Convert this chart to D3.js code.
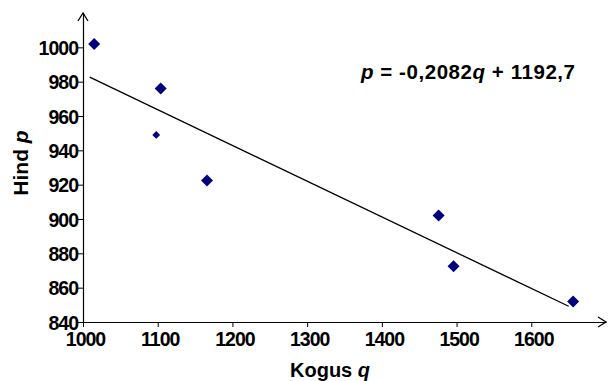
<!DOCTYPE html>
<html><head><meta charset="utf-8">
<script src="https://cdn.jsdelivr.net/npm/d3@7"></script>
<style>
body{margin:0;background:#fff;}
text{font-family:"Liberation Sans",Arial,sans-serif;font-weight:bold;}
</style></head>
<body><svg id="c" width="608" height="381"></svg>
<script>
const qValues = [1015, 1104, 1098, 1166, 1476, 1496, 1656];
const pValues = [1002, 976, 949, 922.5, 902, 872.5, 852];
const markerSizes = [1, 1, 0.65, 1, 1, 1, 1];
const xTicks = [1000, 1100, 1200, 1300, 1400, 1500, 1600];
const yTicks = [840, 860, 880, 900, 920, 940, 960, 980, 1000];
const slope = -0.2082, intercept = 1192.7;
const lineRange = [1009, 1650];

const svg = d3.select("#c");
const x = d3.scaleLinear().domain([1000, 1700]).range([83, 606]);
const y = d3.scaleLinear().domain([840, 1020]).range([322, 13]);

// axes
const xa = svg.append("g").attr("transform","translate(0,322)")
  .call(d3.axisBottom(x).tickValues(xTicks).tickSize(5).tickSizeOuter(0).tickFormat(d3.format("d")));
const ya = svg.append("g").attr("transform","translate(83,0)")
  .call(d3.axisLeft(y).tickValues(yTicks).tickSize(5).tickSizeOuter(0).tickFormat(d3.format("d")));
[xa,ya].forEach(a=>{
  a.select(".domain").attr("stroke","#000").attr("stroke-width",1.2);
  a.selectAll(".tick line").attr("stroke","#000");
  a.selectAll("text").attr("fill","#000").style("font-size","19.5px").style("letter-spacing","-1px");
});
xa.selectAll("text").attr("dy","0").attr("y",23.5).attr("x",2);
ya.selectAll("text").attr("x",-5).attr("dy","0.36em");

// arrowheads
svg.append("path").attr("d",`M${x(1700)-8},${322-5}L${x(1700)},322L${x(1700)-8},${322+5}`)
  .attr("fill","none").attr("stroke","#000").attr("stroke-width",1.3);
svg.append("path").attr("d",`M${83-5},${y(1020)+8}L83,${y(1020)}L${83+5},${y(1020)+8}`)
  .attr("fill","none").attr("stroke","#000").attr("stroke-width",1.3);

// trend line
svg.append("line")
  .attr("x1",x(lineRange[0])).attr("y1",y(slope*lineRange[0]+intercept))
  .attr("x2",x(lineRange[1])).attr("y2",y(slope*lineRange[1]+intercept))
  .attr("stroke","#000").attr("stroke-width",1.3);

// points
const pts = qValues.map((q,i)=>({q,p:pValues[i],s:markerSizes[i]}));
svg.selectAll("path.pt").data(pts).enter().append("path").attr("class","pt")
  .attr("d",d=>{const r=6*d.s;return `M0,${-r}L${r},0L0,${r}L${-r},0Z`;})
  .attr("transform",d=>`translate(${x(d.q)},${y(d.p)})`)
  .attr("fill","#000080");

// titles
const xt = svg.append("text").attr("x",330).attr("y",377).attr("text-anchor","middle").style("font-size","20px");
xt.append("tspan").text("Kogus ");
xt.append("tspan").style("font-style","italic").text("q");
const yt = svg.append("text").attr("transform","translate(28,163) rotate(-90)").attr("text-anchor","middle").style("font-size","21px");
yt.append("tspan").text("Hind ");
yt.append("tspan").style("font-style","italic").text("p");

// equation
const eq = svg.append("text").attr("x",361).attr("y",78.5).style("font-size","20.5px");
eq.append("tspan").style("font-style","italic").text("p");
eq.append("tspan").text(" = -0,2082");
eq.append("tspan").style("font-style","italic").text("q");
eq.append("tspan").text(" + 1192,7");
const w0 = eq.node().getBBox().width;
const targetW = 215;
eq.selectAll("tspan").style("letter-spacing", ((targetW - w0) / 20) + "px");
</script></body></html>
